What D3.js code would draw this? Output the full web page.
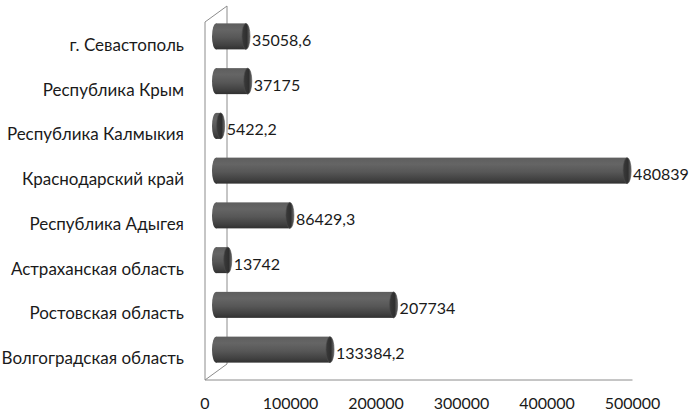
<!DOCTYPE html>
<html><head><meta charset="utf-8">
<script src="https://cdn.jsdelivr.net/npm/d3@7"></script>
<style>body{margin:0;background:#fff}svg{display:block}text{font-family:Lato,"Open Sans",sans-serif;fill:#1a1a1a}</style>
</head><body>
<svg id="c" width="690" height="411"></svg>
<script>
const categories = ["г. Севастополь","Республика Крым","Республика Калмыкия","Краснодарский край","Республика Адыгея","Астраханская область","Ростовская область","Волгоградская область"];
const values = [35058.6, 37175, 5422.2, 480839, 86429.3, 13742, 207734, 133384.2];
const valueLabels = ["35058,6","37175","5422,2","480839","86429,3","13742","207734","133384,2"];
const xTicks = [0,100000,200000,300000,400000,500000];

const svg = d3.select("#c");
const depth = {dx:22, dy:-16};
const x = d3.scaleLinear().domain([0,500000]).range([205,632.5]);
const y = d3.scaleBand().domain(categories).range([22,380]).padding(0);
const mid = {dx:depth.dx/2, dy:depth.dy/2};

const defs = svg.append("defs");
const g1 = defs.append("linearGradient").attr("id","body").attr("x1",0).attr("y1",0).attr("x2",0).attr("y2",1);
[[0,"#5e5e5e"],[0.25,"#656565"],[0.55,"#575757"],[0.85,"#404040"],[1,"#303030"]].forEach(([o,c])=>g1.append("stop").attr("offset",o).attr("stop-color",c));
const g2 = defs.append("linearGradient").attr("id","cap").attr("x1",0).attr("y1",0).attr("x2",1).attr("y2",0);
[[0,"#3a3a3a"],[0.6,"#2f2f2f"],[1,"#6a6a6a"]].forEach(([o,c])=>g2.append("stop").attr("offset",o).attr("stop-color",c));

const axisColor = "#8c8c8c";
const x0 = x(0), x1 = x(500000), yTop = y.range()[0], yBot = y.range()[1];
svg.append("line").attr("x1",x0+depth.dx).attr("x2",x0+depth.dx).attr("y1",yTop+depth.dy).attr("y2",yBot+depth.dy).attr("stroke",axisColor);
svg.append("line").attr("x1",x0).attr("x2",x0).attr("y1",yTop).attr("y2",yBot).attr("stroke",axisColor);
svg.append("line").attr("x1",x0).attr("y1",yTop).attr("x2",x0+depth.dx).attr("y2",yTop+depth.dy).attr("stroke",axisColor);
svg.append("line").attr("x1",x0).attr("y1",yBot).attr("x2",x0+depth.dx).attr("y2",yBot+depth.dy).attr("stroke",axisColor);
svg.append("line").attr("x1",x0).attr("x2",x1).attr("y1",yBot).attr("y2",yBot).attr("stroke",axisColor);

svg.append("g").selectAll("text").data(xTicks).join("text")
  .attr("x",d=>x(d)).attr("y",402).attr("text-anchor","middle").attr("dominant-baseline","central")
  .style("font-size","16px").text(d=>d);

svg.append("g").selectAll("text").data(categories).join("text")
  .attr("x",184).attr("y",d=>y(d)+y.bandwidth()/2).attr("text-anchor","end").attr("dominant-baseline","central")
  .style("font-size","17px").text(d=>d);

const h = 26, rx = 4;
const bars = svg.append("g").selectAll("g").data(categories).join("g")
  .attr("transform",(d)=>`translate(0,${y(d)+y.bandwidth()/2+mid.dy})`);
bars.append("ellipse").attr("cx",x0+mid.dx).attr("cy",0).attr("rx",rx).attr("ry",h/2).attr("fill","url(#body)");
bars.append("rect").attr("x",x0+mid.dx).attr("y",-h/2).attr("width",(d,i)=>x(values[i])-x0).attr("height",h).attr("fill","url(#body)");
bars.append("ellipse").attr("cx",(d,i)=>x(values[i])+mid.dx).attr("cy",0).attr("rx",rx).attr("ry",h/2)
  .attr("fill","url(#cap)").attr("stroke","#4a4a4a").attr("stroke-width",0.6);
bars.append("text").attr("x",(d,i)=>x(values[i])+mid.dx+rx+2).attr("y",3).attr("dominant-baseline","central")
  .style("font-size","16px").text((d,i)=>valueLabels[i]);
</script>
</body></html>
